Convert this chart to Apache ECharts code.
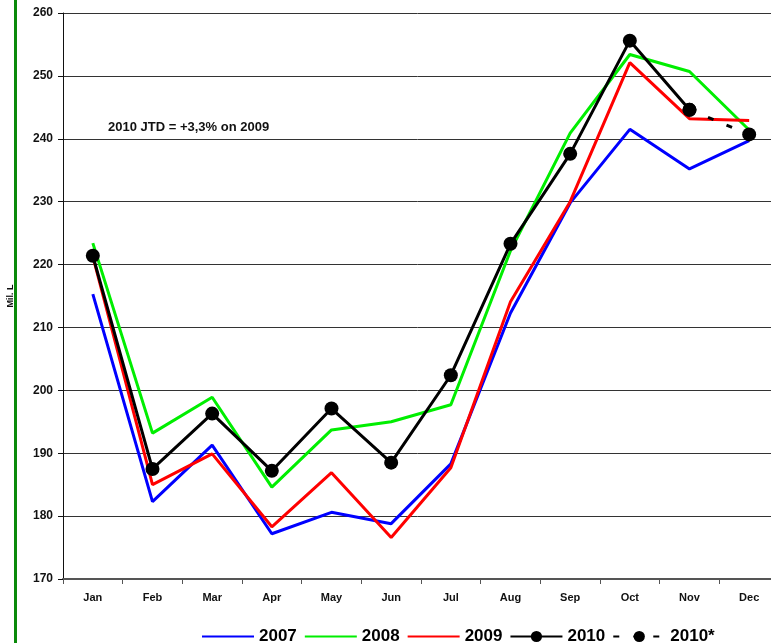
<!DOCTYPE html>
<html>
<head>
<meta charset="utf-8">
<script src="https://cdn.jsdelivr.net/npm/echarts@6/dist/echarts.min.js"></script>
<style>
html,body{margin:0;padding:0;background:#fff;}
#chart{width:771px;height:643px;}
</style>
</head>
<body>
<div id="chart"></div>
<script>
// monthly volumes, Mil. L
let months = ['Jan','Feb','Mar','Apr','May','Jun','Jul','Aug','Sep','Oct','Nov','Dec'];
let yTicks = [170, 260, 10];
let v2007 = [215.3,182.3,191.3,177.2,180.6,178.8,188.3,212.3,229.8,241.5,235.2,239.7];
let v2008 = [223.4,193.2,198.9,184.6,193.7,195.0,197.7,222.2,240.9,253.4,250.7,241.4];
let v2009 = [221.3,185.0,189.9,178.3,186.9,176.6,187.7,214.1,230.0,252.1,243.2,242.9];
let v2010 = [221.4,187.5,196.3,187.2,197.1,188.5,202.4,223.3,237.6,255.6,244.6];
let v2010est = [null,null,null,null,null,null,null,null,null,null,244.6,240.7];
let note = '2010 JTD = +3,3% on 2009';

let chart = echarts.init(document.getElementById('chart'));
let font = '"Liberation Sans", Arial, sans-serif';

function plain(name, data, color) {
    return {
        name: name, type: 'line', data: data, symbol: 'none',
        lineStyle: {color: color, width: 3}, itemStyle: {color: color},
        z: 2
    };
}

chart.setOption({
    animation: false,
    textStyle: {fontFamily: font},
    grid: {left: 63, top: 13, width: 716, height: 566, outerBoundsMode: 'none', containLabel: false},
    legend: {
        left: 196, top: 623,
        itemWidth: 52, itemHeight: 14, itemGap: 7,
        textStyle: {fontSize: 17, fontWeight: 'bold', color: '#000', fontFamily: font},
        data: [
            {name: '2007', itemStyle: {opacity: 0}},
            {name: '2008', itemStyle: {opacity: 0}},
            {name: '2009', itemStyle: {opacity: 0}},
            '2010', '2010*'
        ]
    },
    xAxis: {
        type: 'category', data: months, boundaryGap: true,
        axisLine: {lineStyle: {color: '#555', width: 2}},
        axisTick: {show: true, length: 5, lineStyle: {color: '#555'}},
        axisLabel: {margin: 13, fontSize: 11, fontWeight: 'bold', color: '#111'}
    },
    yAxis: {
        type: 'value', min: yTicks[0], max: yTicks[1], interval: yTicks[2],
        name: 'Mil. L', nameLocation: 'middle', nameGap: 48, nameRotate: 90,
        nameTextStyle: {fontSize: 9, fontWeight: 'bold', color: '#111'},
        axisLine: {show: true, lineStyle: {color: '#111', width: 1}},
        axisTick: {show: true, length: 5, lineStyle: {color: '#111'}},
        axisLabel: {margin: 10, fontSize: 12, fontWeight: 'bold', color: '#111'},
        splitLine: {lineStyle: {color: '#333', width: 1}}
    },
    graphic: [
        {type: 'rect', left: 14, top: 0, shape: {width: 3, height: 643}, style: {fill: '#0a8a0a'}},
        {type: 'text', left: 108, top: 121, style: {text: note, fontSize: 13, fontWeight: 'bold', fill: '#111', fontFamily: font}}
    ],
    series: [
        plain('2007', v2007, '#0000ff'),
        plain('2008', v2008, '#00ee00'),
        plain('2009', v2009, '#ff0000'),
        {
            name: '2010', type: 'line', data: v2010,
            symbol: 'circle', symbolSize: 14, showAllSymbol: true,
            lineStyle: {color: '#000', width: 3}, itemStyle: {color: '#000'}, z: 4
        },
        {
            name: '2010*', type: 'line', data: v2010est,
            symbol: 'circle', symbolSize: 14,
            lineStyle: {color: '#000', width: 3, type: [6, 14]}, itemStyle: {color: '#000'}, z: 4
        }
    ]
});
</script>
</body>
</html>
